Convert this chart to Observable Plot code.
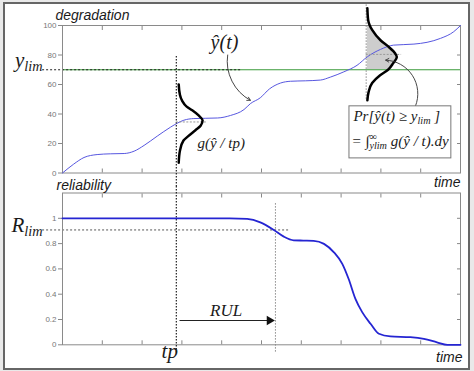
<!DOCTYPE html>
<html><head><meta charset="utf-8">
<script src="https://cdn.jsdelivr.net/npm/d3@7"></script>
<script src="https://cdn.jsdelivr.net/npm/@observablehq/plot@0.6"></script>
<style>
body{margin:0;background:#e9e9e9;}
#wrap{position:relative;width:474px;height:371px;overflow:hidden;}
#box{position:absolute;left:3px;top:2px;width:463px;height:364px;border:2px solid #666;background:#fff;}
#top,#bot{position:absolute;left:0;}
#top{top:0px}#bot{top:186px}
</style></head><body>
<div id="wrap"><div id="box"></div><div id="top"></div><div id="bot"></div></div>
<script>
// ---- ticks ----
const timeTicks = [1,2,3,4,5,6,7,8,9];
const degTicks = [0,20,40,60,80,100];
const degRightTicks = [20,40,60,80];
const relTicks = [0,0.2,0.4,0.6,0.8,1];
const relRightTicks = [0.2,0.4,0.6,0.8,1];

// ---- degradation trajectory y^(t) ----
const degT = [0,0.28,0.54,0.87,1.2,1.55,1.8,2.05,2.38,2.71,2.9,3.05,3.3,3.9,4.22,4.56,4.72,4.97,5.2,5.48,5.73,6.1,6.48,6.73,7.07,7.4,7.66,7.99,8.32,8.83,9.16,9.5,9.83,10];
const degV = [0,6,10.5,12.5,13,13.2,14.8,18.7,25,31,34,35.8,36.9,37.3,39,43,47,51,57,61,62.2,62.5,63,65,68.6,73,78.8,83.8,86.7,87.4,88.6,91.3,95.8,100];

// ---- reliability R(t) ----
const relT = [0,4.2,4.64,4.97,5.31,5.56,5.81,6.05,6.31,6.57,6.82,7.03,7.19,7.36,7.53,7.74,7.95,8.24,8.74,9.08,9.41,9.67,10];
const relR = [1,1,0.995,0.968,0.908,0.855,0.826,0.824,0.822,0.798,0.731,0.64,0.52,0.363,0.258,0.166,0.087,0.066,0.06,0.047,0.02,0,0];

// ---- density g(y^/tp) and g(y^/t) (value, width in time units) ----
const bell1V = [7,15,22,25,29,32,35.7,39,42.5,45,49,53,60];
const bell1W = [0,0.03,0.12,0.24,0.42,0.55,0.6,0.5,0.34,0.2,0.085,0.03,0];
const bell2V = [49.3,54.8,61,66.3,70,74.5,78.6,81,85.4,90,97,100,103.7,111.7];
const bell2W = [0,0.03,0.12,0.32,0.52,0.65,0.74,0.7,0.54,0.33,0.12,0.06,0.02,0];

// ---- key values ----
const tp = 2.86, tEval = 7.63, tEnd = 5.35;
const yLim = 70, rLim = 0.908;
const bell1Base = 2.92, bell2Base = 7.66;
const bell1Mean = 34.6, bell2Mean = 80.4;

const deg = degT.map((t,i)=>({t, v: degV[i]}));
const rel = relT.map((t,i)=>({t, r: relR[i]}));
const bell1 = bell1V.map((v,i)=>({v, w: bell1W[i]}));
const bell2 = bell2V.map((v,i)=>({v, w: bell2W[i]}));

const serif = "'Liberation Serif', 'Times New Roman', serif";
const sans = "'Liberation Sans', Arial, sans-serif";
const ink = "#1a1a1a";

function txt(d, o) { return Plot.text([d], {x: "t", y: "v", text: "s", lineAnchor: "bottom", fill: ink, ...o}); }
const it = {fontFamily: serif, fontStyle: "italic"};
const si = {fontFamily: sans, fontStyle: "italic"};

const topPlot = Plot.plot({
  width: 474, height: 186,
  marginLeft: 62, marginRight: 14, marginTop: 25, marginBottom: 13.5,
  x: {domain: [0,10], axis: null},
  y: {domain: [0,100], axis: null},
  style: {background: "transparent", overflow: "visible", fontFamily: sans},
  marks: [
    Plot.areaX(bell2.filter(d => d.v >= yLim && d.v <= 100), {y: "v", x1: () => bell2Base, x2: d => bell2Base + d.w, fill: "#cdcdcd", curve: "monotone-y"}),
    Plot.ruleY([yLim], {x1: 0, x2: 10, stroke: "#3a9a3a", strokeWidth: 1.2}),
    Plot.ruleY([yLim], {x1: -0.5, x2: 4.5, stroke: "#222", strokeDasharray: "2,2"}),
    Plot.frame({stroke: "#8a8a8a"}),
    Plot.axisY(degTicks, {anchor: "left", tickSize: 4, tickPadding: 2, fontSize: 8, stroke: "#888", fill: "#777", label: null}),
    Plot.axisY(degRightTicks, {anchor: "right", tickSize: -4, stroke: "#888", fill: "none", label: null}),
    Plot.axisX(timeTicks, {anchor: "bottom", tickSize: -4, stroke: "#888", fill: "none", label: null}),
    Plot.axisX(timeTicks, {anchor: "top", tickSize: -4, stroke: "#888", fill: "none", label: null}),
    Plot.line(deg, {x: "t", y: "v", stroke: "#5757e0", strokeWidth: 1, curve: "monotone-x"}),
    Plot.ruleX([tp], {y1: 79, y2: -9.2, stroke: "#222", strokeWidth: 1.2, strokeDasharray: "1.5,1.5"}),
    Plot.ruleX([tEval], {y1: 114, y2: 49, stroke: "#888", strokeDasharray: "1.5,1.5"}),
    Plot.ruleY([bell1Mean], {x1: tp, x2: 3.62, stroke: "#999", strokeDasharray: "2,1.5"}),
    Plot.ruleY([bell2Mean], {x1: tEval, x2: 8.52, stroke: "#999", strokeDasharray: "2,1.5"}),
    Plot.line(bell1, {x: d => bell1Base + d.w, y: "v", curve: "monotone-y", stroke: "#000", strokeWidth: 2.5}),
    Plot.line(bell2, {x: d => bell2Base + d.w, y: "v", curve: "monotone-y", stroke: "#000", strokeWidth: 2.5}),
    Plot.arrow([{x1: 4.15, y1: 80, x2: 4.72, y2: 49.3}], {x1: "x1", y1: "y1", x2: "x2", y2: "y2", bend: -35, headLength: 6, stroke: "#333", strokeWidth: 0.9}),
    Plot.arrow([{x1: 8.87, y1: 45.5, x2: 8.12, y2: 76.5}], {x1: "x1", y1: "y1", x2: "x2", y2: "y2", bend: -55, headLength: 6, stroke: "#333", strokeWidth: 0.9}),
    Plot.rect([{a: 7.21, b: 9.77, c: 9.9, d: 45.2}], {x1: "a", x2: "b", y1: "c", y2: "d", fill: "#fff", stroke: "#777"}),
    txt({t: 7.31, v: 35, s: "Pr[ŷ(t) ≥ y_{lim} ]"}, {...it, fontSize: 15, textAnchor: "start"}),
    txt({t: 7.26, v: 18, s: "= ∫^{∞}_{ylim} g(ŷ / t).dy"}, {...it, fontSize: 15, textAnchor: "start"}),
    txt({t: -0.176, v: 103.7, s: "degradation"}, {...si, fontSize: 14, textAnchor: "start"}),
    txt({t: -0.5, v: 71.8, s: "y_{lim}"}, {...it, fontSize: 21, textAnchor: "end"}),
    txt({t: 4.07, v: 84, s: "ŷ(t)"}, {...it, fontSize: 20, textAnchor: "middle"}),
    txt({t: 3.39, v: 16.7, s: "g(ŷ / tp)"}, {...it, fontSize: 15, textAnchor: "start"}),
    txt({t: 10, v: -9.7, s: "time"}, {...si, fontSize: 14, textAnchor: "end"})
  ]
});

const botPlot = Plot.plot({
  width: 474, height: 185,
  marginLeft: 62, marginRight: 14, marginTop: 6.5, marginBottom: 26.7,
  x: {domain: [0,10], axis: null},
  y: {domain: [0,1.2], axis: null},
  style: {background: "transparent", overflow: "visible", fontFamily: sans},
  marks: [
    Plot.ruleY([rLim], {x1: -0.5, x2: 5.73, stroke: "#555", strokeDasharray: "2,2"}),
    Plot.frame({stroke: "#8a8a8a"}),
    Plot.axisY(relTicks, {anchor: "left", tickSize: 4, tickPadding: 2, fontSize: 8, stroke: "#888", fill: "#777", label: null,
      tickFormat: d => d === 0 ? "0" : d === 1 ? "1" : d.toFixed(1)}),
    Plot.axisY(relRightTicks, {anchor: "right", tickSize: -4, stroke: "#888", fill: "none", label: null}),
    Plot.axisX(timeTicks, {anchor: "bottom", tickSize: -4, stroke: "#888", fill: "none", label: null}),
    Plot.axisX(timeTicks, {anchor: "top", tickSize: -4, stroke: "#888", fill: "none", label: null}),
    Plot.ruleX([tp], {y1: 1.252, y2: -0.068, stroke: "#222", strokeWidth: 1.2, strokeDasharray: "1.5,1.5"}),
    Plot.ruleX([tEnd], {y1: 1.116, y2: -0.06, stroke: "#888", strokeDasharray: "1.5,1.5"}),
    Plot.line(rel, {x: "t", y: "r", stroke: "#2525d2", strokeWidth: 1.8, curve: "monotone-x"}),
    Plot.link([{a: 2.94, b: 5.15, r: 0.192}], {x1: "a", x2: "b", y1: "r", y2: "r", stroke: "#222", strokeWidth: 1.2}),
    Plot.dot([{t: 5.2, r: 0.192}], {x: "t", y: "r", symbol: "triangle", rotate: 90, r: 3.5, fill: "#111", stroke: "none"}),
    Plot.text([{t: -0.15, r: 1.224, s: "reliability"}], {x: "t", y: "r", text: "s", lineAnchor: "bottom", ...si, fontSize: 14, textAnchor: "start", fill: ink}),
    Plot.text([{t: -0.5, r: 0.89, s: "R_{lim}"}], {x: "t", y: "r", text: "s", lineAnchor: "bottom", ...it, fontSize: 21, textAnchor: "end", fill: ink}),
    Plot.text([{t: 4.11, r: 0.224, s: "RUL"}], {x: "t", y: "r", text: "s", lineAnchor: "bottom", ...it, fontSize: 17, textAnchor: "middle", fill: ink}),
    Plot.text([{t: 2.9, r: -0.108, s: "tp"}], {x: "t", y: "r", text: "s", lineAnchor: "bottom", ...it, fontSize: 21, textAnchor: "end", fill: ink}),
    Plot.text([{t: 10.05, r: -0.138, s: "time"}], {x: "t", y: "r", text: "s", lineAnchor: "bottom", ...si, fontSize: 14, textAnchor: "end", fill: ink})
  ]
});

document.getElementById("top").appendChild(topPlot);
document.getElementById("bot").appendChild(botPlot);

// sub/superscript markup -> tspans
function richText(root) {
  root.querySelectorAll("text").forEach(t => {
    const s = t.textContent;
    if (!/[_^]\{/.test(s)) return;
    const fs = parseFloat(getComputedStyle(t).fontSize) || 12;
    const parts = [];
    const re = /([_^])\{([^}]*)\}|([^_^]+)/g;
    let m;
    while ((m = re.exec(s))) parts.push(m[3] != null ? {k: "", s: m[3]} : {k: m[1], s: m[2]});
    t.textContent = "";
    let shift = 0, prev = null;
    for (const p of parts) {
      const ts = document.createElementNS("http://www.w3.org/2000/svg", "tspan");
      const target = p.k === "_" ? fs * 0.2 : p.k === "^" ? -fs * 0.45 : 0;
      ts.setAttribute("dy", target - shift);
      shift = target;
      if (p.k) ts.setAttribute("font-size", (fs * 0.68).toFixed(1));
      ts.textContent = p.s;
      t.appendChild(ts);
      if (p.k === "_" && prev && prev.k === "^") ts.setAttribute("dx", -prev.el.getComputedTextLength());
      prev = {k: p.k, el: ts};
    }
  });
}
richText(topPlot);
richText(botPlot);
</script></body></html>
